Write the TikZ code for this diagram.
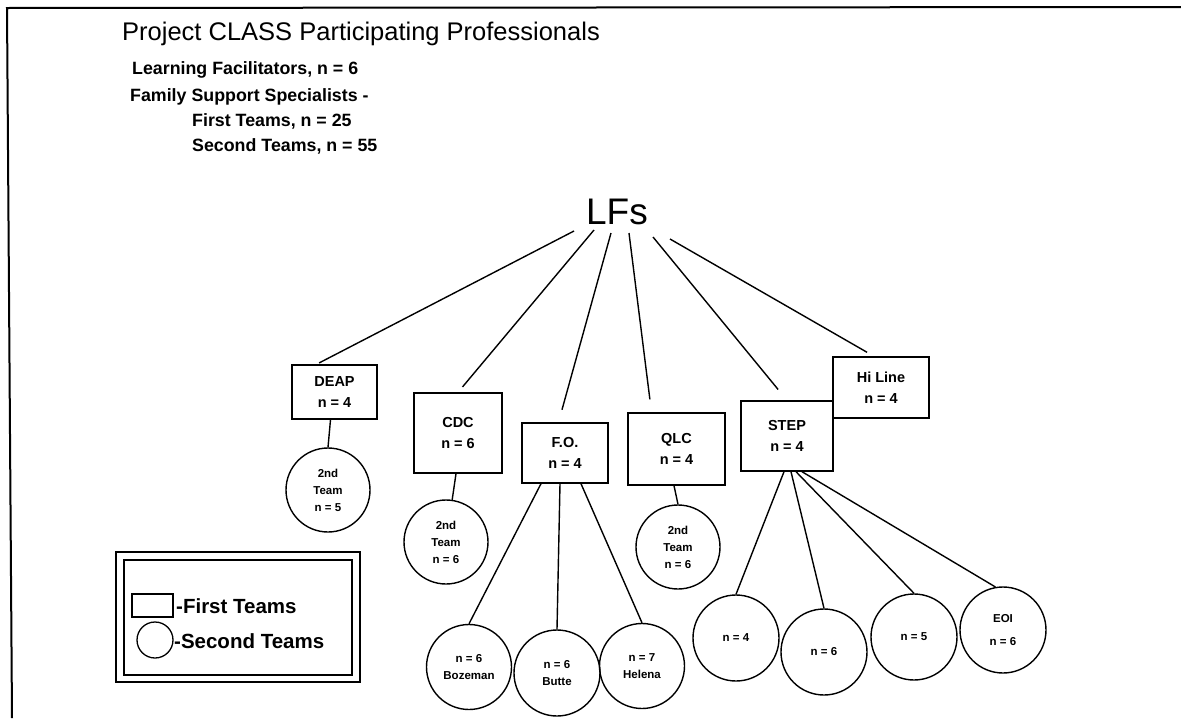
\documentclass[tikz,border=0pt]{standalone}
\usepackage{fontspec}
\setmainfont{Liberation Sans}
\begin{document}
\begin{tikzpicture}[x=1pt,y=-1pt,
  firstbox/.style={draw, line width=1.4pt, inner sep=0pt, align=center,
    font=\bfseries\fontsize{14.5}{21}\selectfont},
  secondcirc/.style={draw, circle, line width=1.4pt, inner sep=0pt, align=center,
    font=\bfseries\fontsize{11.5}{17}\selectfont},
  link/.style={line width=1.4pt},
  headline/.style={anchor=base west, inner sep=0pt, font=\bfseries\fontsize{17.8}{20}\selectfont},
  legtext/.style={anchor=west, inner sep=0pt, font=\bfseries\fontsize{20.5}{22}\selectfont}]
\useasboundingbox (0,0) rectangle (1181,718);
% frame
\draw[line width=2pt] (12,718) -- (7,8) -- (1181,7);
% header
\node[anchor=base west, inner sep=0pt, font=\fontsize{25.5}{30}\selectfont] (title) at (122,40) {Project CLASS Participating Professionals};
\node[headline] (h1) at (132,74) {Learning Facilitators, n = 6};
\node[headline] (h2) at (130,101) {Family Support Specialists -};
\node[headline] (h3) at (192,126) {First Teams, n = 25};
\node[headline] (h4) at (192,151) {Second Teams, n = 55};
% root
\node[inner sep=0pt, font=\fontsize{37}{40}\selectfont] (lfs) at (617,212) {LFs};
\coordinate (lf1) at (574,231);
\coordinate (lf2) at (594,230);
\coordinate (lf3) at (611,233);
\coordinate (lf4) at (629,233);
\coordinate (lf5) at (653,237);
\coordinate (lf6) at (670,239);
% first teams
\node[firstbox, minimum width=85pt, minimum height=54pt] (deap) at (334.5,392) {DEAP\\n = 4};
\node[firstbox, minimum width=88pt, minimum height=80pt] (cdc) at (458,433) {CDC\\n = 6};
\node[firstbox, minimum width=86pt, minimum height=60pt] (fo) at (565,453) {F.O.\\n = 4};
\node[firstbox, minimum width=97pt, minimum height=72pt] (qlc) at (676.5,449) {QLC\\n = 4};
\node[firstbox, minimum width=96pt, minimum height=61pt] (hiline) at (881,387.5) {Hi Line\\n = 4};
\node[firstbox, minimum width=92pt, minimum height=70pt] (step) at (787,436) {STEP\\n = 4};
% second teams
\node[secondcirc, minimum size=84pt] (deap2) at (328,490) {2nd\\Team\\n = 5};
\node[secondcirc, minimum size=84pt] (cdc2) at (446,542) {2nd\\Team\\n = 6};
\node[secondcirc, minimum size=85pt] (boz) at (469,667) {n = 6\\Bozeman};
\node[secondcirc, minimum size=86pt] (butte) at (557,673) {n = 6\\Butte};
\node[secondcirc, minimum size=85pt] (helena) at (642,666) {n = 7\\Helena};
\node[secondcirc, minimum size=84pt] (qlc2) at (678,547) {2nd\\Team\\n = 6};
\node[secondcirc, minimum size=86pt] (s1) at (736,638) {n = 4};
\node[secondcirc, minimum size=86pt] (s2) at (824,652) {n = 6};
\node[secondcirc, minimum size=86pt] (s3) at (914,637) {n = 5};
\node[secondcirc, minimum size=86pt, font=\bfseries\fontsize{11.5}{23}\selectfont] (s4) at (1003,630) {EOI\\n = 6};
% connectors from LFs
\draw[link, shorten >=3pt] (lf1) -- ([xshift=-18pt]deap.north);
\draw[link, shorten >=7pt] (lf2) -- (cdc.north);
\draw[link, shorten >=13pt] (lf3) -- ([xshift=-6.5pt]fo.north);
\draw[link, shorten >=13pt] (lf4) -- ([xshift=-25pt]qlc.north);
\draw[link, shorten >=14pt] (lf5) -- (step.north);
\draw[link, shorten >=8pt] (lf6) -- ([xshift=-7pt]hiline.north);
% connectors to second teams
\draw[link] ([xshift=-4pt]deap.south) -- (deap2.north);
\draw[link] ([xshift=-2pt]cdc.south) -- (cdc2);
\draw[link] ([xshift=-24pt]fo.south) -- (boz.north);
\draw[link] ([xshift=-5pt]fo.south) -- (butte.north);
\draw[link] ([xshift=16pt]fo.south) -- (helena.north);
\draw[link] ([xshift=-2.5pt]qlc.south) -- (qlc2.north);
\draw[link] ([xshift=-3pt]step.south) -- (s1.north);
\draw[link] ([xshift=4pt]step.south) -- (s2.north);
\draw[link] ([xshift=9pt]step.south) -- (s3.north);
\draw[link] ([xshift=15pt]step.south) -- (s4.100);
% legend
\node[draw, line width=1.6pt, minimum width=244pt, minimum height=130pt, inner sep=0pt] (legout) at (238,617) {};
\node[draw, line width=1.3pt, minimum width=228pt, minimum height=115pt, inner sep=0pt] (legin) at (238,617.5) {};
\node[draw, line width=1.3pt, minimum width=41pt, minimum height=23pt, inner sep=0pt] (legbox) at (152.5,605.5) {};
\node[draw, circle, line width=1.3pt, minimum size=36pt, inner sep=0pt] (legcirc) at (155,640) {};
\node[legtext] (legt1) at (176,606) {-First Teams};
\node[legtext] (legt2) at (174,641) {-Second Teams};
\end{tikzpicture}
\end{document}
